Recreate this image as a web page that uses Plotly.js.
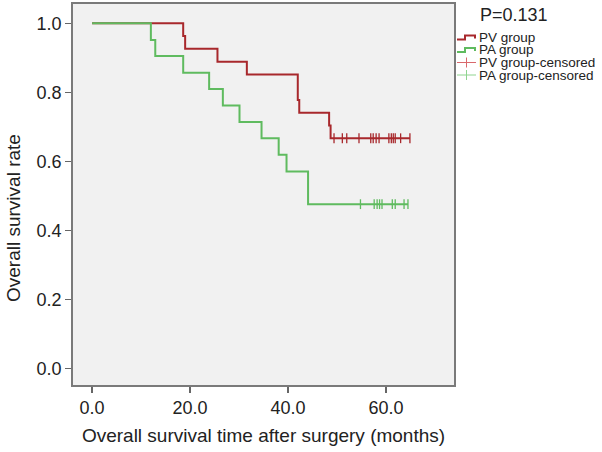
<!DOCTYPE html>
<html>
<head>
<meta charset="utf-8">
<script src="https://cdn.plot.ly/plotly-3.0.1.min.js"></script>
<style>html,body{margin:0;padding:0;background:#fff;}#chart{width:602px;height:452px;}</style>
</head>
<body>
<div id="chart"></div>
<script>
// Kaplan-Meier step points
const pvTimes = [0, 18.6, 19.0, 25.6, 31.6, 42.0, 42.3, 48.4, 48.7, 64.9];
const pvSurv  = [1.0, 0.963, 0.926, 0.889, 0.852, 0.778, 0.741, 0.704, 0.667, 0.667];
const paTimes = [0, 12.0, 12.9, 18.6, 23.9, 26.7, 30.1, 34.6, 38.1, 39.7, 44.1, 64.5];
const paSurv  = [1.0, 0.952, 0.905, 0.857, 0.810, 0.762, 0.714, 0.667, 0.619, 0.571, 0.476, 0.476];
// censored observations
const pvCensTimes = [49.4, 51.1, 52.0, 54.5, 56.9, 57.4, 58.0, 58.6, 60.6, 61.1, 61.5, 61.9, 63.0, 64.9];
const pvCensSurv  = [0.667, 0.667, 0.667, 0.667, 0.667, 0.667, 0.667, 0.667, 0.667, 0.667, 0.667, 0.667, 0.667, 0.667];
const paCensTimes = [54.8, 57.6, 58.2, 58.7, 59.2, 61.3, 61.9, 63.7, 64.5];
const paCensSurv  = [0.476, 0.476, 0.476, 0.476, 0.476, 0.476, 0.476, 0.476, 0.476];
// labels
const seriesNames = ["PV group", "PA group", "PV group-censored", "PA group-censored"];
const pValueText = "P=0.131";
const xTitle = "Overall survival time after surgery (months)";
const yTitle = "Overall survival rate";
const xTickVals = [0, 20, 40, 60];
const xTickText = ["0.0", "20.0", "40.0", "60.0"];
const yTickVals = [0, 0.2, 0.4, 0.6, 0.8, 1.0];
const yTickText = ["0.0", "0.2", "0.4", "0.6", "0.8", "1.0"];

const RED = "#a8282c";
const GREEN = "#5fbb5f";
const RED_L = "#d9686c";
const GREEN_L = "#8fd48f";
const FONT = "Liberation Sans, Arial, Helvetica, sans-serif";

const traces = [
  {x: pvTimes, y: pvSurv, mode: "lines", line: {shape: "hv", color: RED, width: 2}, name: seriesNames[0], showlegend: false, hoverinfo: "skip"},
  {x: paTimes, y: paSurv, mode: "lines", line: {shape: "hv", color: GREEN, width: 2}, name: seriesNames[1], showlegend: false, hoverinfo: "skip"},
  {x: pvCensTimes, y: pvCensSurv, mode: "markers", marker: {symbol: "line-ns", size: 7, line: {color: RED, width: 1.3}}, name: seriesNames[2], showlegend: false, hoverinfo: "skip"},
  {x: paCensTimes, y: paCensSurv, mode: "markers", marker: {symbol: "line-ns", size: 7, line: {color: GREEN, width: 1.3}}, name: seriesNames[3], showlegend: false, hoverinfo: "skip"}
];

// plot area in pixels
const L = 73, T = 4, W = 381, H = 381;
const px = v => (v - L) / W;
const py = v => (T + H - v) / H;

const shapes = [];
const annotations = [];
annotations.push({xref: "paper", yref: "paper", x: px(478), y: py(15), xanchor: "left", yanchor: "middle",
  text: pValueText, showarrow: false, font: {family: FONT, size: 18, color: "#222"}});
annotations.push({xref: "paper", yref: "paper", x: px(13), y: py(218), xanchor: "center", yanchor: "middle",
  textangle: -90, text: yTitle, showarrow: false, font: {family: FONT, size: 19, color: "#222"}});

const rowY = [37.5, 50, 62.5, 75];
const iconColors = [RED, GREEN, RED_L, GREEN_L];
for (let i = 0; i < 4; i++) {
  const yc = rowY[i];
  annotations.push({xref: "paper", yref: "paper", x: px(478), y: py(yc), xanchor: "left", yanchor: "middle",
    text: seriesNames[i], showarrow: false, borderpad: 0, font: {family: FONT, size: 13.5, color: "#222"}});
  if (i < 2) {
    shapes.push({type: "path", xref: "paper", yref: "paper",
      path: `M ${px(457)} ${py(yc+2)} L ${px(465)} ${py(yc+2)} L ${px(465)} ${py(yc-2)} L ${px(475)} ${py(yc-2)} L ${px(475)} ${py(yc+1)}`,
      line: {color: iconColors[i], width: 2}});
  } else {
    shapes.push({type: "line", xref: "paper", yref: "paper", x0: px(457), x1: px(476), y0: py(yc), y1: py(yc), line: {color: iconColors[i], width: 1}});
    shapes.push({type: "line", xref: "paper", yref: "paper", x0: px(466.5), x1: px(466.5), y0: py(yc-5), y1: py(yc+5), line: {color: iconColors[i], width: 1}});
  }
}

const layout = {
  width: 602, height: 452,
  margin: {l: L, r: 602 - L - W, t: T, b: 452 - T - H, pad: 0},
  paper_bgcolor: "#ffffff",
  plot_bgcolor: "#f1f1f1",
  showlegend: false,
  font: {family: FONT, color: "#222"},
  xaxis: {
    range: [-3.9, 73.9], tickvals: xTickVals, ticktext: xTickText,
    ticks: "outside", ticklen: 6, tickwidth: 1.3, tickcolor: "#666",
    showline: true, mirror: true, linecolor: "#7a7a7a", linewidth: 1.8,
    showgrid: false, zeroline: false, fixedrange: true,
    tickfont: {family: FONT, size: 18, color: "#222"},
    title: {text: xTitle, font: {family: FONT, size: 19, color: "#222"}, standoff: 11},
    automargin: false
  },
  yaxis: {
    range: [-0.048, 1.056], tickvals: yTickVals, ticktext: yTickText,
    ticks: "outside", ticklen: 6, tickwidth: 1.3, tickcolor: "#666",
    showline: true, mirror: true, linecolor: "#7a7a7a", linewidth: 1.8,
    showgrid: false, zeroline: false, fixedrange: true,
    tickfont: {family: FONT, size: 18, color: "#222"},
    automargin: false
  },
  shapes: shapes,
  annotations: annotations
};

Plotly.newPlot("chart", traces, layout, {displayModeBar: false, staticPlot: true});
</script>
</body>
</html>
